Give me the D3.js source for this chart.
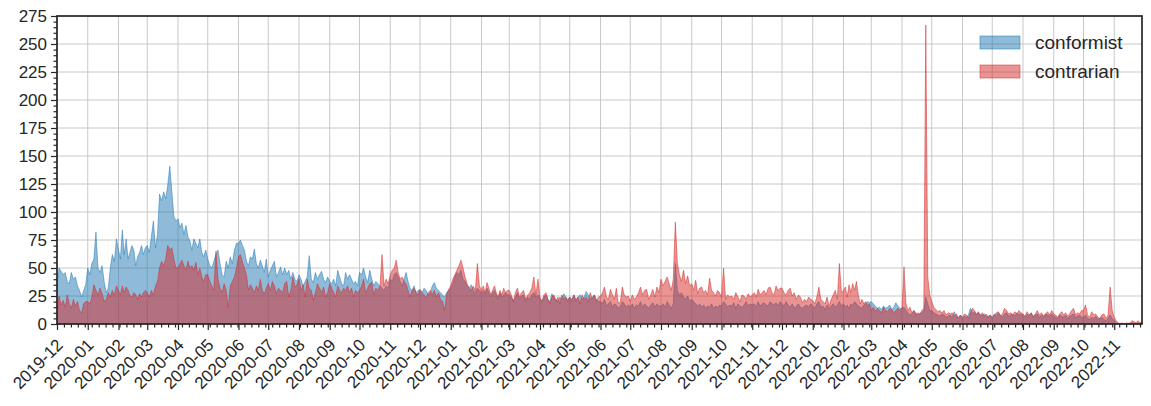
<!DOCTYPE html>
<html><head><meta charset="utf-8">
<script src="https://cdn.jsdelivr.net/npm/d3@7"></script>
<style>
body{margin:0;background:#fff}
text{font-family:"Liberation Sans",Arial,sans-serif;fill:#262626}
</style>
</head><body><svg id="c" width="1151" height="406"></svg>
<script>
// month tick labels (one row of 15 values per month below)
const months = ["2019-12","2020-01","2020-02","2020-03","2020-04","2020-05","2020-06","2020-07","2020-08","2020-09","2020-10","2020-11","2020-12",
  "2021-01","2021-02","2021-03","2021-04","2021-05","2021-06","2021-07","2021-08","2021-09","2021-10","2021-11","2021-12",
  "2022-01","2022-02","2022-03","2022-04","2022-05","2022-06","2022-07","2022-08","2022-09","2022-10","2022-11"];
const seriesNames = ["conformist","contrarian"];
const yTicks = [0,25,50,75,100,125,150,175,200,225,250,275];

const conformist = [
35,50,47,44,46,38,36,46,40,42,34,30,24,30,35,
50,44,54,58,82,50,46,52,38,28,32,50,62,56,76,
66,58,84,62,76,58,64,70,66,52,60,64,70,62,68,
70,64,78,92,68,80,116,110,118,112,124,141,118,96,92,
94,86,90,80,88,78,74,66,76,72,68,76,64,60,66,
58,52,50,56,62,66,54,44,42,56,50,60,54,66,72,
72,75,70,66,56,52,60,58,67,54,50,57,52,46,58,
42,48,52,56,42,46,51,44,50,44,48,40,46,40,38,
44,40,34,38,42,61,40,37,46,40,44,47,40,37,42,
38,36,40,34,48,42,36,34,46,40,44,40,36,38,34,
46,44,50,42,37,48,40,34,38,36,34,32,30,34,32,
40,38,44,46,42,38,34,40,46,38,32,30,34,28,30,
30,28,32,30,26,28,34,37,32,30,28,26,24,28,30,
32,36,42,46,44,48,40,38,34,32,35,30,28,32,30,
28,30,26,32,28,24,28,30,26,22,28,24,26,28,26,
26,24,20,24,28,22,25,26,20,24,22,26,28,24,26,
22,20,24,26,22,20,27,24,22,20,24,22,27,24,22,
24,22,26,20,24,26,22,24,29,26,22,24,26,22,20,
20,18,22,16,18,20,15,18,17,14,16,20,18,15,17,
15,18,14,17,16,20,15,18,16,14,17,19,15,18,16,
16,18,15,20,17,14,18,54,30,26,28,24,22,25,20,
22,20,18,16,18,15,17,14,16,15,18,14,16,15,17,
16,20,18,15,17,16,19,14,18,16,15,17,20,16,18,
17,18,15,20,16,18,19,17,16,20,18,17,19,16,20,
18,16,20,17,15,18,14,16,18,15,14,16,17,15,18,
16,14,18,20,15,16,13,17,14,16,18,15,17,20,16,
18,15,17,14,18,16,20,18,16,15,14,17,18,20,19,
20,18,16,14,15,13,16,14,15,17,13,15,19,16,14,
14,15,12,10,8,9,12,10,8,9,10,12,24,18,12,
12,10,9,8,7,9,8,6,7,8,6,11,7,6,8,
5,7,6,8,14,9,11,8,10,7,8,9,6,7,8,
6,9,7,10,8,6,9,10,7,8,9,7,10,8,9,
8,6,9,7,10,7,8,9,6,8,7,9,8,7,9,
7,6,5,8,7,6,8,5,7,8,9,6,7,8,6,
6,8,5,4,6,5,7,4,5,6,4,3,5,8,5,
3,1,0.5,0,0.5,0,0,0.5,0,1,0.5,0,1,0.5,1
];

const contrarian = [
8,25,17,21,15,26,18,14,22,16,20,12,10,18,20,
20,18,24,35,30,26,32,27,20,22,28,24,30,26,34,
30,26,34,28,33,30,25,24,28,26,22,27,24,28,30,
28,24,30,26,34,38,50,56,52,58,70,66,68,58,50,
50,54,57,52,48,56,50,52,48,55,44,50,42,38,44,
44,38,34,30,65,40,32,28,36,30,15,34,38,42,50,
60,62,55,50,44,30,35,32,28,34,30,40,30,27,32,
36,30,38,34,27,32,30,28,36,38,24,30,42,33,35,
40,30,35,24,40,32,30,21,28,36,32,28,33,24,28,
36,32,28,24,34,30,28,32,30,34,28,32,24,30,28,
30,34,40,28,32,36,37,26,32,30,34,62,34,40,36,
44,48,50,57,46,40,42,38,36,30,24,30,32,28,26,
31,28,26,23,28,30,26,30,24,28,22,20,12,26,31,
34,40,44,48,52,57,50,42,36,32,30,34,30,54,34,
30,34,28,37,32,26,30,34,28,24,30,26,32,28,30,
30,26,20,28,32,24,28,30,22,26,28,32,42,26,40,
24,20,26,28,22,18,24,26,20,24,18,26,22,24,20,
24,20,26,22,24,18,26,22,24,20,28,22,26,20,24,
25,28,33,24,22,31,26,22,32,18,20,33,26,24,25,
20,26,22,24,28,33,26,30,31,22,26,31,24,33,28,
40,34,38,42,36,30,40,91,54,44,38,48,36,43,34,
36,30,39,27,32,33,28,30,26,41,30,28,25,30,28,
24,50,22,26,24,25,22,28,24,20,26,25,22,27,24,
26,28,24,31,26,28,30,26,32,33,28,26,34,30,32,
32,28,26,30,32,25,28,22,26,24,19,22,20,24,22,
21,18,24,33,22,20,18,24,16,22,26,30,22,54,28,
30,33,24,35,28,36,30,38,26,18,22,18,20,16,18,
12,15,11,14,12,10,15,12,11,14,13,10,12,14,12,
14,51,18,12,15,10,12,8,10,9,12,14,267,42,26,
20,15,13,11,12,10,12,8,10,9,10,7,9,5,8,
6,9,8,5,10,14,12,9,11,8,10,7,9,6,8,
5,8,10,11,7,9,14,12,9,10,8,11,9,12,10,
9,7,11,8,10,6,9,12,8,10,7,9,11,8,12,
9,8,6,9,11,8,10,7,9,12,14,8,10,9,12,
12,17,8,6,11,8,9,6,5,8,9,5,8,33,12,
6,3,1,0.5,1,0,1,0.5,1,3,2,1,3,1,2
];

const colors = {conformist:"#1f77b4", contrarian:"#d62728"};
const PER_MONTH = 15;
const parseMonth = d3.timeParse("%Y-%m");
const monthDates = months.map(parseMonth);
const dates = [];
monthDates.forEach(s => {
  const e = d3.timeMonth.offset(s, 1);
  const step = (e - s) / PER_MONTH;
  for (let j = 0; j < PER_MONTH; j++) dates.push(new Date(+s + j * step));
});

const L = 57, R = 1142, T = 16, B = 324;
const svg = d3.select("#c");
const x = d3.scaleTime().domain([dates[0], dates[dates.length - 1]]).range([L, R]);
const y = d3.scaleLinear().domain([0, 275]).range([B, T]);

// grid
const g = svg.append("g");
g.selectAll("line.gx").data(monthDates).join("line")
  .attr("x1", d => x(d)).attr("x2", d => x(d)).attr("y1", T).attr("y2", B)
  .attr("stroke", "#c8c8c8").attr("stroke-width", 1);
g.selectAll("line.gy").data(yTicks).join("line")
  .attr("x1", L).attr("x2", R).attr("y1", d => y(d)).attr("y2", d => y(d))
  .attr("stroke", "#c8c8c8").attr("stroke-width", 1);

// areas
svg.append("clipPath").attr("id", "pc").append("rect")
  .attr("x", L).attr("y", T).attr("width", R - L).attr("height", B - T);
const series = {conformist, contrarian};
seriesNames.forEach(name => {
  const vals = series[name];
  const area = d3.area().x((d, i) => x(dates[i])).y0(y(0)).y1(d => y(d));
  svg.append("path").datum(vals).attr("d", area)
    .attr("clip-path", "url(#pc)")
    .attr("fill", colors[name]).attr("fill-opacity", 0.5)
    .attr("stroke", colors[name]).attr("stroke-opacity", 0.5).attr("stroke-width", 1)
    .attr("stroke-linejoin", "round");
});

// axes
const ink = "#262626";
const xAxis = d3.axisBottom(x).tickValues(monthDates).tickSize(6).tickSizeOuter(0).tickFormat("");
const xa = svg.append("g").attr("transform", `translate(0,${B})`).call(xAxis);
const weeks = d3.timeSunday.range(dates[0], dates[dates.length - 1]).filter(d => d.getDate() !== 1);
const xMinor = d3.axisBottom(x).tickValues(weeks).tickSize(3.5).tickSizeOuter(0).tickFormat("");
const xm = svg.append("g").attr("transform", `translate(0,${B})`).call(xMinor);
const yAxis = d3.axisLeft(y).tickValues(yTicks).tickSize(6).tickSizeOuter(0).tickPadding(4);
const ya = svg.append("g").attr("transform", `translate(${L},0)`).call(yAxis);
const yMinor = d3.axisLeft(y).tickValues(d3.range(0, 276, 5).filter(v => v % 25 !== 0)).tickSize(3.5).tickSizeOuter(0).tickFormat("");
const ym = svg.append("g").attr("transform", `translate(${L},0)`).call(yMinor);
[xa, xm, ya, ym].forEach(a => {
  a.select(".domain").remove();
  a.selectAll("line").attr("stroke", ink).attr("stroke-width", 1.2);
});
ya.selectAll("text").attr("font-size", 17).attr("fill", ink).style("font-family", '"Liberation Sans",Arial,sans-serif');

// rotated x labels
svg.append("g").selectAll("text").data(monthDates).join("text")
  .attr("transform", d => `translate(${x(d) + 7},${346}) rotate(-45)`)
  .attr("text-anchor", "end").attr("font-size", 17)
  .text(d => d3.timeFormat("%Y-%m")(d));

// frame
svg.append("rect").attr("x", L).attr("y", T).attr("width", R - L).attr("height", B - T)
  .attr("fill", "none").attr("stroke", ink).attr("stroke-width", 1.7);

// legend
const lg = svg.append("g");
seriesNames.forEach((name, i) => {
  const yy = 36 + i * 29;
  lg.append("rect").attr("x", 980).attr("y", yy).attr("width", 40).attr("height", 13)
    .attr("fill", colors[name]).attr("fill-opacity", 0.5)
    .attr("stroke", colors[name]).attr("stroke-opacity", 0.5).attr("stroke-width", 1);
  lg.append("text").attr("x", 1035).attr("y", yy + 13).attr("font-size", 19).text(name);
});
</script>
</body></html>
